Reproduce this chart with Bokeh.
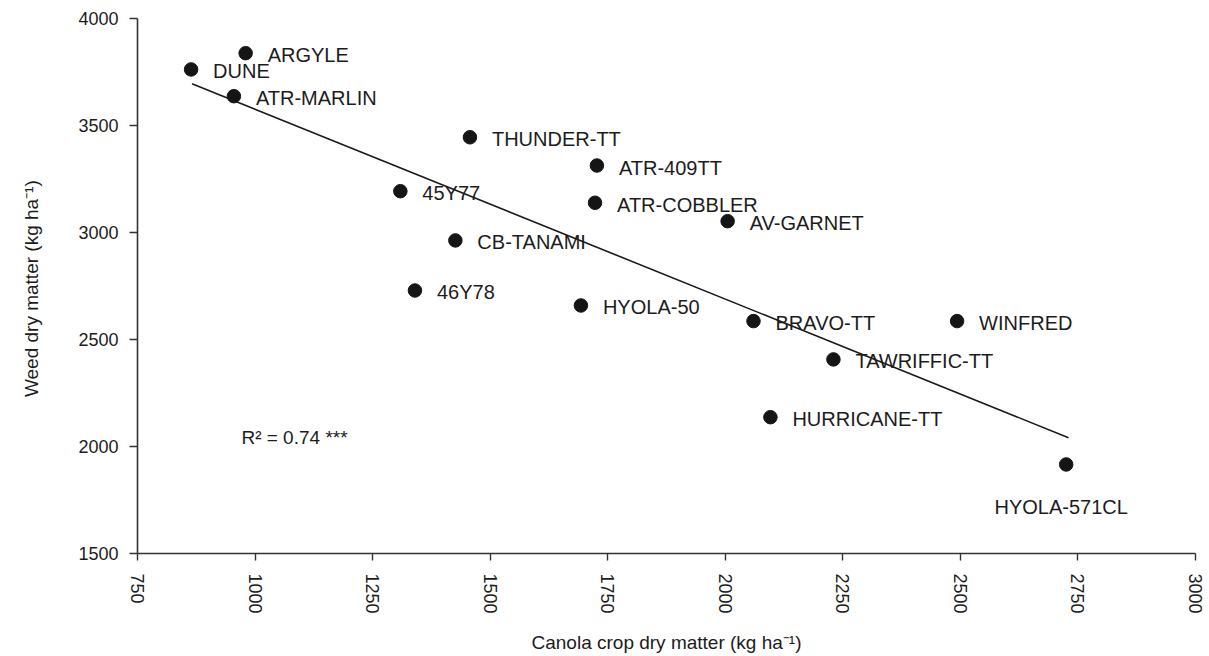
from bokeh.plotting import figure
from bokeh.models import Range1d, ColumnDataSource, FixedTicker
from bokeh.core.properties import value
from bokeh.embed import file_html
from bokeh.resources import INLINE

# ---- data ----
varieties = ["ARGYLE", "DUNE", "ATR-MARLIN", "THUNDER-TT", "ATR-409TT", "45Y77",
             "ATR-COBBLER", "AV-GARNET", "CB-TANAMI", "46Y78", "HYOLA-50",
             "BRAVO-TT", "WINFRED", "TAWRIFFIC-TT", "HURRICANE-TT", "HYOLA-571CL"]
crop_dm = [980, 864, 955, 1457, 1727, 1309, 1723, 2005, 1426, 1340, 1693,
           2060, 2493, 2230, 2096, 2725]
weed_dm = [3838, 3762, 3637, 3445, 3313, 3193, 3139, 3053, 2963, 2729, 2659,
           2586, 2586, 2407, 2137, 1916]

fit_x = [866, 2730]
fit_y = [3695, 2041]

x_ticks = [750, 1000, 1250, 1500, 1750, 2000, 2250, 2500, 2750, 3000]
y_ticks = [1500, 2000, 2500, 3000, 3500, 4000]

r2_text = "R² = 0.74 ***"

# ---- label layout (styles, not data) ----
label_dx = [22] * len(varieties)
label_dy = [2] * len(varieties)
label_align = ["left"] * len(varieties)
i = varieties.index("HYOLA-571CL")
label_dx[i] = -5
label_dy[i] = 43
label_align[i] = "center"

FONT = "Liberation Sans"
TXT = "#1c1c1c"

p = figure(frame_width=1058, frame_height=535,
           x_range=Range1d(750, 3000), y_range=Range1d(1500, 4000),
           output_backend="svg", toolbar_location=None,
           min_border_left=137, min_border_top=18, min_border_right=12,
           min_border_bottom=95, background_fill_color="white",
           border_fill_color="white", outline_line_color=None)

p.xgrid.visible = False
p.ygrid.visible = False

src = ColumnDataSource(dict(x=crop_dm, y=weed_dm, name=varieties,
                            dx=label_dx, dy=label_dy, align=label_align))

p.line(fit_x, fit_y, line_color="#1a1a1a", line_width=1.6)
p.scatter("x", "y", source=src, size=13.5, fill_color="#151515",
          line_color="#151515", line_width=1)
p.text("x", "y", text="name", source=src, x_offset="dx", y_offset="dy",
       text_align="align", text_baseline="middle",
       text_font=value(FONT), text_font_size="20px", text_color=TXT)

p.text([971], [2043], text=[r2_text], text_align="left", text_baseline="middle",
       text_font=value(FONT), text_font_size="19px", text_color=TXT)

# axes
xa = p.xaxis[0]
xa.ticker = FixedTicker(ticks=x_ticks)
xa.minor_tick_line_color = None
xa.major_tick_out = 7
xa.major_tick_in = 0
xa.major_label_orientation = "vertical"
xa.major_label_standoff = 13
xa.major_label_text_font = FONT
xa.major_label_text_font_size = "18px"
xa.major_label_text_color = TXT
xa.axis_label = "Canola crop dry matter (kg ha⁻¹)"
xa.axis_label_text_font = FONT
xa.axis_label_text_font_size = "19px"
xa.axis_label_text_font_style = "normal"
xa.axis_label_text_color = TXT
xa.axis_label_standoff = 15
xa.axis_line_color = "#333333"
xa.axis_line_width = 1.6
xa.major_tick_line_color = "#333333"
xa.major_tick_line_width = 1.4

ya = p.yaxis[0]
ya.ticker = FixedTicker(ticks=y_ticks)
ya.minor_tick_line_color = None
ya.major_tick_out = 8
ya.major_tick_in = 0
ya.major_label_standoff = 11
ya.major_label_text_font = FONT
ya.major_label_text_font_size = "18px"
ya.major_label_text_color = TXT
ya.axis_label = "Weed  dry matter (kg ha⁻¹)"
ya.axis_label_text_font = FONT
ya.axis_label_text_font_size = "19px"
ya.axis_label_text_font_style = "normal"
ya.axis_label_text_color = TXT
ya.axis_label_standoff = 33
ya.axis_line_color = "#333333"
ya.axis_line_width = 1.6
ya.major_tick_line_color = "#333333"
ya.major_tick_line_width = 1.4

open("out.html", "w").write(file_html(p, INLINE))
